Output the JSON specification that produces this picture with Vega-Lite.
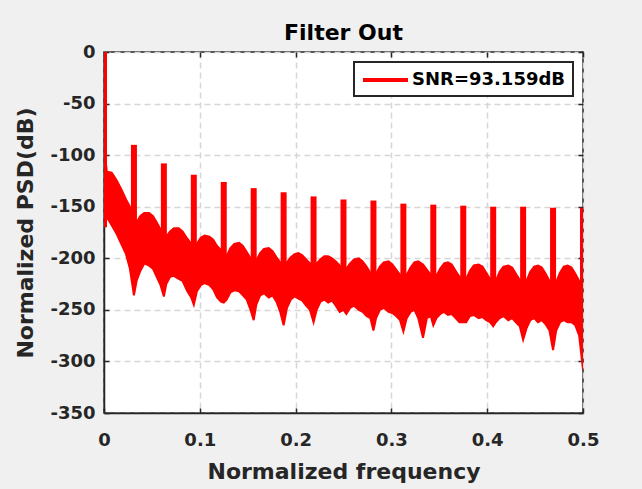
{
  "$schema": "https://vega.github.io/schema/vega-lite/v6.json",
  "width": 479,
  "height": 361,
  "autosize": {"type": "none"},
  "padding": {"left": 104, "top": 52, "right": 59, "bottom": 76},
  "title": {"text": "Filter Out", "frame": "group", "anchor": "middle", "fontSize": 22, "fontWeight": "bold", "font": "DejaVu Sans", "color": "#000000", "offset": -2},
  "datasets": {
    "band": [
      {"f": 0, "hi": -93, "lo": -168, "series": "SNR=93.159dB"},
      {"f": 0.003, "hi": -116, "lo": -160, "series": "SNR=93.159dB"},
      {"f": 0.008, "hi": -117, "lo": -168, "series": "SNR=93.159dB"},
      {"f": 0.013, "hi": -124, "lo": -176, "series": "SNR=93.159dB"},
      {"f": 0.018, "hi": -133, "lo": -186, "series": "SNR=93.159dB"},
      {"f": 0.023, "hi": -143, "lo": -196, "series": "SNR=93.159dB"},
      {"f": 0.027, "hi": -150, "lo": -210, "series": "SNR=93.159dB"},
      {"f": 0.03125, "hi": -160, "lo": -236, "series": "SNR=93.159dB"},
      {"f": 0.034, "hi": -165, "lo": -222, "series": "SNR=93.159dB"},
      {"f": 0.038, "hi": -159, "lo": -212, "series": "SNR=93.159dB"},
      {"f": 0.042, "hi": -156, "lo": -205, "series": "SNR=93.159dB"},
      {"f": 0.047, "hi": -156, "lo": -207, "series": "SNR=93.159dB"},
      {"f": 0.051, "hi": -159, "lo": -210, "series": "SNR=93.159dB"},
      {"f": 0.055, "hi": -165, "lo": -218, "series": "SNR=93.159dB"},
      {"f": 0.059, "hi": -172, "lo": -226, "series": "SNR=93.159dB"},
      {"f": 0.0625, "hi": -176, "lo": -237, "series": "SNR=93.159dB"},
      {"f": 0.065, "hi": -179, "lo": -225, "series": "SNR=93.159dB"},
      {"f": 0.069, "hi": -174, "lo": -218, "series": "SNR=93.159dB"},
      {"f": 0.073, "hi": -171, "lo": -217, "series": "SNR=93.159dB"},
      {"f": 0.078, "hi": -171, "lo": -220, "series": "SNR=93.159dB"},
      {"f": 0.082, "hi": -174, "lo": -222, "series": "SNR=93.159dB"},
      {"f": 0.087, "hi": -181, "lo": -232, "series": "SNR=93.159dB"},
      {"f": 0.091, "hi": -186, "lo": -238, "series": "SNR=93.159dB"},
      {"f": 0.09375, "hi": -188, "lo": -245, "series": "SNR=93.159dB"},
      {"f": 0.097, "hi": -186, "lo": -232, "series": "SNR=93.159dB"},
      {"f": 0.101, "hi": -180, "lo": -226, "series": "SNR=93.159dB"},
      {"f": 0.105, "hi": -178, "lo": -224, "series": "SNR=93.159dB"},
      {"f": 0.110, "hi": -179, "lo": -226, "series": "SNR=93.159dB"},
      {"f": 0.114, "hi": -182, "lo": -230, "series": "SNR=93.159dB"},
      {"f": 0.118, "hi": -188, "lo": -238, "series": "SNR=93.159dB"},
      {"f": 0.122, "hi": -192, "lo": -242, "series": "SNR=93.159dB"},
      {"f": 0.125, "hi": -195, "lo": -243, "series": "SNR=93.159dB"},
      {"f": 0.128, "hi": -198, "lo": -240, "series": "SNR=93.159dB"},
      {"f": 0.132, "hi": -190, "lo": -233, "series": "SNR=93.159dB"},
      {"f": 0.136, "hi": -186, "lo": -231, "series": "SNR=93.159dB"},
      {"f": 0.141, "hi": -185, "lo": -232, "series": "SNR=93.159dB"},
      {"f": 0.145, "hi": -188, "lo": -236, "series": "SNR=93.159dB"},
      {"f": 0.149, "hi": -194, "lo": -240, "series": "SNR=93.159dB"},
      {"f": 0.153, "hi": -200, "lo": -250, "series": "SNR=93.159dB"},
      {"f": 0.15625, "hi": -202, "lo": -260, "series": "SNR=93.159dB"},
      {"f": 0.159, "hi": -202, "lo": -245, "series": "SNR=93.159dB"},
      {"f": 0.163, "hi": -195, "lo": -236, "series": "SNR=93.159dB"},
      {"f": 0.167, "hi": -191, "lo": -234, "series": "SNR=93.159dB"},
      {"f": 0.172, "hi": -190, "lo": -238, "series": "SNR=93.159dB"},
      {"f": 0.176, "hi": -193, "lo": -236, "series": "SNR=93.159dB"},
      {"f": 0.180, "hi": -199, "lo": -242, "series": "SNR=93.159dB"},
      {"f": 0.184, "hi": -204, "lo": -252, "series": "SNR=93.159dB"},
      {"f": 0.1875, "hi": -205, "lo": -265, "series": "SNR=93.159dB"},
      {"f": 0.191, "hi": -204, "lo": -248, "series": "SNR=93.159dB"},
      {"f": 0.195, "hi": -199, "lo": -240, "series": "SNR=93.159dB"},
      {"f": 0.199, "hi": -196, "lo": -237, "series": "SNR=93.159dB"},
      {"f": 0.203, "hi": -195, "lo": -239, "series": "SNR=93.159dB"},
      {"f": 0.207, "hi": -197, "lo": -241, "series": "SNR=93.159dB"},
      {"f": 0.211, "hi": -201, "lo": -246, "series": "SNR=93.159dB"},
      {"f": 0.215, "hi": -205, "lo": -250, "series": "SNR=93.159dB"},
      {"f": 0.21875, "hi": -207, "lo": -262, "series": "SNR=93.159dB"},
      {"f": 0.222, "hi": -205, "lo": -250, "series": "SNR=93.159dB"},
      {"f": 0.226, "hi": -201, "lo": -242, "series": "SNR=93.159dB"},
      {"f": 0.230, "hi": -198, "lo": -240, "series": "SNR=93.159dB"},
      {"f": 0.234, "hi": -198, "lo": -243, "series": "SNR=93.159dB"},
      {"f": 0.238, "hi": -200, "lo": -241, "series": "SNR=93.159dB"},
      {"f": 0.242, "hi": -203, "lo": -246, "series": "SNR=93.159dB"},
      {"f": 0.246, "hi": -207, "lo": -252, "series": "SNR=93.159dB"},
      {"f": 0.25, "hi": -209, "lo": -250, "series": "SNR=93.159dB"},
      {"f": 0.253, "hi": -210, "lo": -254, "series": "SNR=93.159dB"},
      {"f": 0.257, "hi": -205, "lo": -248, "series": "SNR=93.159dB"},
      {"f": 0.261, "hi": -201, "lo": -246, "series": "SNR=93.159dB"},
      {"f": 0.266, "hi": -200, "lo": -250, "series": "SNR=93.159dB"},
      {"f": 0.270, "hi": -203, "lo": -252, "series": "SNR=93.159dB"},
      {"f": 0.274, "hi": -208, "lo": -256, "series": "SNR=93.159dB"},
      {"f": 0.278, "hi": -214, "lo": -258, "series": "SNR=93.159dB"},
      {"f": 0.28125, "hi": -216, "lo": -270, "series": "SNR=93.159dB"},
      {"f": 0.284, "hi": -215, "lo": -258, "series": "SNR=93.159dB"},
      {"f": 0.288, "hi": -208, "lo": -250, "series": "SNR=93.159dB"},
      {"f": 0.292, "hi": -204, "lo": -248, "series": "SNR=93.159dB"},
      {"f": 0.297, "hi": -203, "lo": -252, "series": "SNR=93.159dB"},
      {"f": 0.301, "hi": -206, "lo": -253, "series": "SNR=93.159dB"},
      {"f": 0.305, "hi": -211, "lo": -256, "series": "SNR=93.159dB"},
      {"f": 0.309, "hi": -216, "lo": -260, "series": "SNR=93.159dB"},
      {"f": 0.3125, "hi": -218, "lo": -271, "series": "SNR=93.159dB"},
      {"f": 0.316, "hi": -216, "lo": -258, "series": "SNR=93.159dB"},
      {"f": 0.320, "hi": -209, "lo": -252, "series": "SNR=93.159dB"},
      {"f": 0.324, "hi": -204, "lo": -250, "series": "SNR=93.159dB"},
      {"f": 0.328, "hi": -203, "lo": -258, "series": "SNR=93.159dB"},
      {"f": 0.333, "hi": -206, "lo": -277, "series": "SNR=93.159dB"},
      {"f": 0.337, "hi": -211, "lo": -258, "series": "SNR=93.159dB"},
      {"f": 0.341, "hi": -216, "lo": -256, "series": "SNR=93.159dB"},
      {"f": 0.34375, "hi": -218, "lo": -265, "series": "SNR=93.159dB"},
      {"f": 0.347, "hi": -217, "lo": -258, "series": "SNR=93.159dB"},
      {"f": 0.351, "hi": -210, "lo": -254, "series": "SNR=93.159dB"},
      {"f": 0.355, "hi": -205, "lo": -252, "series": "SNR=93.159dB"},
      {"f": 0.359, "hi": -204, "lo": -255, "series": "SNR=93.159dB"},
      {"f": 0.363, "hi": -206, "lo": -254, "series": "SNR=93.159dB"},
      {"f": 0.367, "hi": -212, "lo": -258, "series": "SNR=93.159dB"},
      {"f": 0.371, "hi": -218, "lo": -262, "series": "SNR=93.159dB"},
      {"f": 0.375, "hi": -220, "lo": -262, "series": "SNR=93.159dB"},
      {"f": 0.378, "hi": -220, "lo": -262, "series": "SNR=93.159dB"},
      {"f": 0.382, "hi": -212, "lo": -256, "series": "SNR=93.159dB"},
      {"f": 0.386, "hi": -207, "lo": -255, "series": "SNR=93.159dB"},
      {"f": 0.391, "hi": -206, "lo": -258, "series": "SNR=93.159dB"},
      {"f": 0.395, "hi": -208, "lo": -257, "series": "SNR=93.159dB"},
      {"f": 0.399, "hi": -214, "lo": -260, "series": "SNR=93.159dB"},
      {"f": 0.403, "hi": -220, "lo": -262, "series": "SNR=93.159dB"},
      {"f": 0.40625, "hi": -222, "lo": -266, "series": "SNR=93.159dB"},
      {"f": 0.409, "hi": -222, "lo": -262, "series": "SNR=93.159dB"},
      {"f": 0.413, "hi": -213, "lo": -258, "series": "SNR=93.159dB"},
      {"f": 0.417, "hi": -208, "lo": -256, "series": "SNR=93.159dB"},
      {"f": 0.422, "hi": -207, "lo": -260, "series": "SNR=93.159dB"},
      {"f": 0.426, "hi": -209, "lo": -258, "series": "SNR=93.159dB"},
      {"f": 0.430, "hi": -215, "lo": -262, "series": "SNR=93.159dB"},
      {"f": 0.434, "hi": -221, "lo": -266, "series": "SNR=93.159dB"},
      {"f": 0.4375, "hi": -223, "lo": -279, "series": "SNR=93.159dB"},
      {"f": 0.441, "hi": -222, "lo": -268, "series": "SNR=93.159dB"},
      {"f": 0.445, "hi": -213, "lo": -260, "series": "SNR=93.159dB"},
      {"f": 0.449, "hi": -208, "lo": -258, "series": "SNR=93.159dB"},
      {"f": 0.453, "hi": -207, "lo": -262, "series": "SNR=93.159dB"},
      {"f": 0.457, "hi": -209, "lo": -260, "series": "SNR=93.159dB"},
      {"f": 0.461, "hi": -215, "lo": -264, "series": "SNR=93.159dB"},
      {"f": 0.465, "hi": -222, "lo": -270, "series": "SNR=93.159dB"},
      {"f": 0.46875, "hi": -224, "lo": -289, "series": "SNR=93.159dB"},
      {"f": 0.472, "hi": -223, "lo": -270, "series": "SNR=93.159dB"},
      {"f": 0.476, "hi": -214, "lo": -262, "series": "SNR=93.159dB"},
      {"f": 0.480, "hi": -208, "lo": -260, "series": "SNR=93.159dB"},
      {"f": 0.484, "hi": -207, "lo": -262, "series": "SNR=93.159dB"},
      {"f": 0.488, "hi": -209, "lo": -262, "series": "SNR=93.159dB"},
      {"f": 0.492, "hi": -215, "lo": -265, "series": "SNR=93.159dB"},
      {"f": 0.496, "hi": -222, "lo": -275, "series": "SNR=93.159dB"},
      {"f": 0.5, "hi": -225, "lo": -308, "series": "SNR=93.159dB"}
    ],
    "spikes": [
      {"f": 0, "top": 0, "base": -170},
      {"f": 0.03125, "top": -90, "base": -200},
      {"f": 0.0625, "top": -108, "base": -200},
      {"f": 0.09375, "top": -119, "base": -210},
      {"f": 0.125, "top": -126, "base": -220},
      {"f": 0.15625, "top": -132, "base": -230},
      {"f": 0.1875, "top": -136, "base": -230},
      {"f": 0.21875, "top": -140, "base": -230},
      {"f": 0.25, "top": -143, "base": -230},
      {"f": 0.28125, "top": -144, "base": -240},
      {"f": 0.3125, "top": -147, "base": -240},
      {"f": 0.34375, "top": -148, "base": -240},
      {"f": 0.375, "top": -149, "base": -240},
      {"f": 0.40625, "top": -150, "base": -240},
      {"f": 0.4375, "top": -150, "base": -240},
      {"f": 0.46875, "top": -151, "base": -240},
      {"f": 0.5, "top": -151, "base": -240}
    ]
  },
  "layer": [
    {
      "data": {"name": "band"},
      "mark": {"type": "area", "clip": true, "stroke": "#ff0000", "strokeWidth": 2, "opacity": 1},
      "encoding": {
        "x": {"field": "f", "type": "quantitative", "scale": {"domain": [0, 0.5], "nice": false, "zero": false},
              "axis": {"orient": "bottom", "values": [0, 0.1, 0.2, 0.3, 0.4, 0.5], "labelExpr": "'' + datum.value", "labelFlush": false, "title": "Normalized frequency", "grid": true, "labelPadding": 23, "titlePadding": 12}},
        "y": {"field": "hi", "type": "quantitative", "scale": {"domain": [-350, 0], "nice": false, "zero": false},
              "axis": {"orient": "left", "values": [-350, -300, -250, -200, -150, -100, -50, 0], "labelExpr": "'' + datum.value", "title": "Normalized PSD(dB)", "grid": true, "labelPadding": 14, "titlePadding": 12}},
        "y2": {"field": "lo"},
        "color": {"field": "series", "type": "nominal", "scale": {"range": ["#ff0000"]},
                  "legend": {"title": null, "orient": "top-right", "offset": 10, "padding": 7, "strokeColor": "#262626", "fillColor": "#ffffff", "symbolType": "M-1,0H4", "symbolSize": 324, "symbolStrokeWidth": 4, "symbolStrokeColor": "#ff0000", "labelOffset": 29, "labelFont": "DejaVu Sans", "labelFontSize": 18, "labelFontWeight": "bold", "labelColor": "#000000"}}
      }
    },
    {
      "data": {"name": "spikes"},
      "mark": {"type": "rule", "clip": true, "color": "#ff0000", "strokeWidth": 6},
      "encoding": {
        "x": {"field": "f", "type": "quantitative", "scale": {"domain": [0, 0.5], "nice": false, "zero": false},
              "axis": {"orient": "top", "values": [0, 0.1, 0.2, 0.3, 0.4, 0.5], "labels": false, "title": null, "grid": false, "domain": false}},
        "y": {"field": "top", "type": "quantitative", "scale": {"domain": [-350, 0], "nice": false, "zero": false},
              "axis": {"orient": "right", "values": [-350, -300, -250, -200, -150, -100, -50, 0], "labels": false, "title": null, "grid": false, "domain": false}},
        "y2": {"field": "base"}
      }
    }
  ],
  "resolve": {"axis": {"x": "independent", "y": "independent"}},
  "config": {
    "background": "#f0f0f0",
    "font": "DejaVu Sans",
    "view": {"fill": "#ffffff", "stroke": "#262626", "strokeWidth": 1.5},
    "axis": {
      "labelFont": "DejaVu Sans", "labelFontSize": 18, "labelFontWeight": "bold", "labelColor": "#262626",
      "titleFont": "DejaVu Sans", "titleFontSize": 22, "titleFontWeight": "bold", "titleColor": "#262626",
      "domainColor": "#262626", "domainWidth": 1.5,
      "tickColor": "#262626", "tickWidth": 1.5, "tickSize": -5,
      "gridColor": "#d6d6d6", "gridDash": [6, 4], "gridWidth": 1.5
    },
    "legend": {"strokeWidth": 2}
  }
}
